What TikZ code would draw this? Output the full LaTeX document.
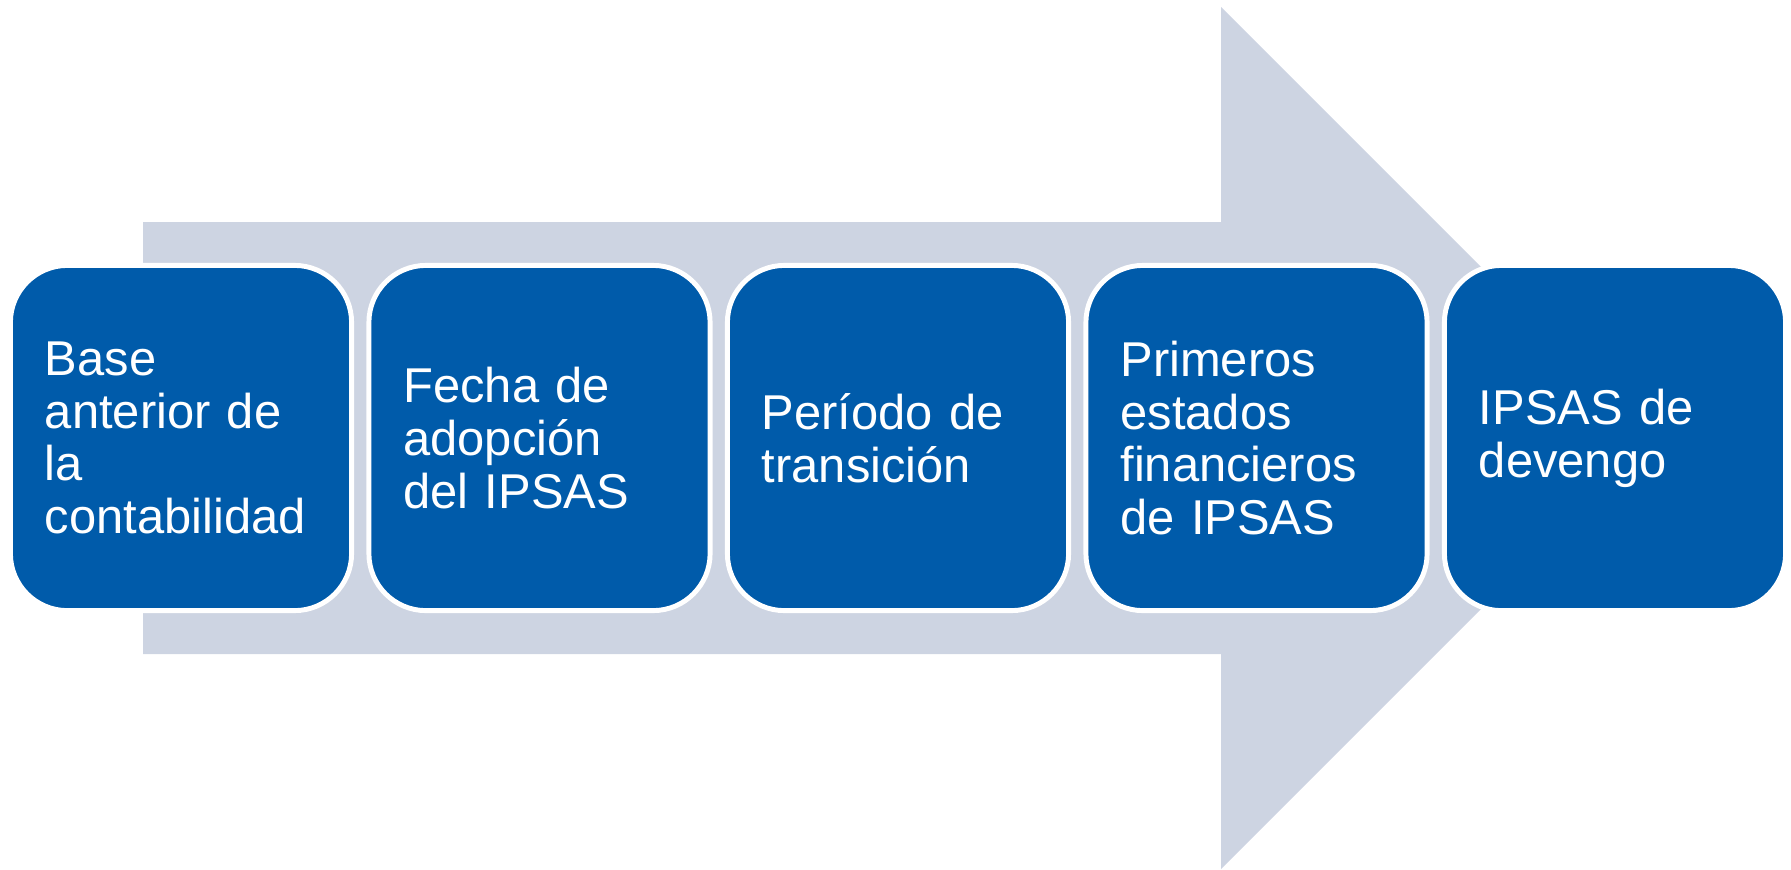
\documentclass[tikz,border=0pt]{standalone}
\usepackage{fontspec}
\setmainfont{Liberation Sans}
\definecolor{azul}{RGB}{0,91,170}
\definecolor{gris}{RGB}{205,212,226}
\begin{document}
\begin{tikzpicture}[x=0.01cm,y=-0.01cm,line join=round,
  etapa/.style={fill=azul,draw=white,line width=1.4pt,rounded corners=0.57cm,
    minimum width=3.41cm,minimum height=3.45cm,text width=2.72cm,inner xsep=0.345cm,
    align=left,text=white,font=\fontsize{13.9pt}{15pt}\selectfont}]
\def \ymid{438};
\def \paso{358.5};
\useasboundingbox (0,0) rectangle (1791,869);
\fill[gris] (143,222) -- (1221,222) -- (1221,7) -- (1652,\ymid) -- (1221,869) -- (1221,654) -- (143,654) -- cycle;
\foreach \i/\t in {1/{Base\\anterior de\\la\\contabilidad},2/{Fecha de\\adopción\\del IPSAS},3/{Período de\\transición},4/{Primeros\\estados\\financieros\\de IPSAS},5/{IPSAS de\\devengo}}{\node[etapa] (e\i) at ({181+\paso*(\i-1)},\ymid) {\t};}
\end{tikzpicture}
\end{document}
